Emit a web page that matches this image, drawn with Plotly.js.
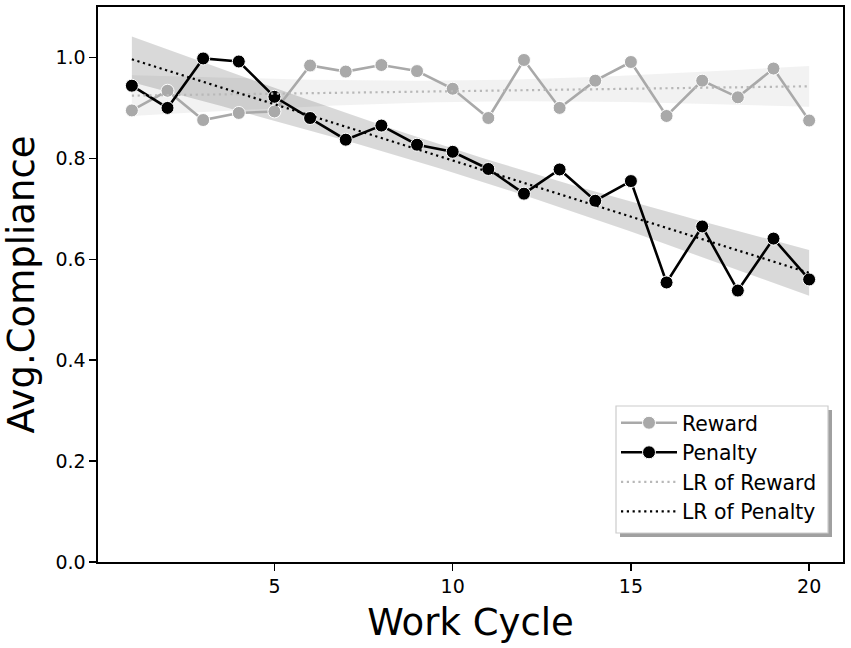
<!DOCTYPE html>
<html>
<head>
<meta charset="utf-8">
<script src="https://cdn.plot.ly/plotly-3.0.1.min.js"></script>
<style>html,body{margin:0;padding:0;background:#fff;}#chart{width:851px;height:648px;}</style>
</head>
<body>
<div id="chart"></div>
<script>
// Data
var workCycle = [1,2,3,4,5,6,7,8,9,10,11,12,13,14,15,16,17,18,19,20];
var reward  = [0.895,0.934,0.876,0.890,0.893,0.984,0.972,0.985,0.973,0.938,0.880,0.995,0.900,0.954,0.991,0.884,0.954,0.921,0.978,0.875];
var penalty = [0.944,0.900,0.998,0.992,0.922,0.880,0.837,0.865,0.827,0.813,0.779,0.730,0.778,0.716,0.755,0.554,0.665,0.538,0.641,0.560];
var seriesNames = ["Reward","Penalty","LR of Reward","LR of Penalty"];
var yTicks = [0,0.2,0.4,0.6,0.8,1.0];
var xTicks = [5,10,15,20];

// Linear regression with 95% confidence band (as drawn by a regression plot)
function regress(x, y) {
  var n = x.length, mx = 0, my = 0;
  for (var i = 0; i < n; i++) { mx += x[i]; my += y[i]; }
  mx /= n; my /= n;
  var sxx = 0, sxy = 0;
  for (i = 0; i < n; i++) { sxx += (x[i]-mx)*(x[i]-mx); sxy += (x[i]-mx)*(y[i]-my); }
  var b = sxy / sxx, a = my - b*mx, sse = 0;
  for (i = 0; i < n; i++) { var r = y[i] - (a + b*x[i]); sse += r*r; }
  var s = Math.sqrt(sse/(n-2)), t = 2.1009; // t(0.975, df=18)
  var xs = [], fit = [], up = [], lo = [];
  var x0 = Math.min.apply(null, x), x1 = Math.max.apply(null, x);
  for (var k = 0; k <= 60; k++) {
    var xv = x0 + (x1-x0)*k/60;
    var f = a + b*xv;
    var h = t*s*Math.sqrt(1/n + (xv-mx)*(xv-mx)/sxx);
    xs.push(xv); fit.push(f); up.push(f+h); lo.push(f-h);
  }
  return {xs: xs, fit: fit, up: up, lo: lo};
}
function band(r, color) {
  return {x: r.xs.concat(r.xs.slice().reverse()), y: r.up.concat(r.lo.slice().reverse()),
    type: 'scatter', mode: 'lines', fill: 'toself', fillcolor: color,
    line: {width: 0}, hoverinfo: 'skip', showlegend: false};
}
var rR = regress(workCycle, reward);
var rP = regress(workCycle, penalty);

var traces = [
  band(rR, 'rgba(169,169,169,0.15)'),
  band(rP, 'rgba(0,0,0,0.15)'),
  {x: workCycle, y: reward, name: seriesNames[0], type: 'scatter', mode: 'lines+markers',
   line: {color: '#a9a9a9', width: 2.6}, marker: {color: '#a9a9a9', size: 13, line: {color: '#ffffff', width: 1}}},
  {x: workCycle, y: penalty, name: seriesNames[1], type: 'scatter', mode: 'lines+markers',
   line: {color: '#000000', width: 2.6}, marker: {color: '#000000', size: 13, line: {color: '#ffffff', width: 1}}},
  {x: rR.xs, y: rR.fit, name: seriesNames[2], type: 'scatter', mode: 'lines',
   line: {color: '#b8b8b8', width: 2.2, dash: '2.2px,3.6px'}},
  {x: rP.xs, y: rP.fit, name: seriesNames[3], type: 'scatter', mode: 'lines',
   line: {color: '#000000', width: 2.2, dash: '2.2px,3.6px'}}
];

// plot area in pixels: x 98..843, y 7..562
function px(x) { return (x - 98) / 745; }
function py(y) { return (562 - y) / 555; }

var font = "DejaVu Sans, sans-serif";
var layout = {
  width: 851, height: 648,
  margin: {l: 98, r: 8, t: 7, b: 86},
  paper_bgcolor: '#ffffff', plot_bgcolor: '#ffffff',
  font: {family: font, color: '#000000', size: 19},
  showlegend: true,
  xaxis: {
    range: [0.05, 20.95], tickvals: xTicks, ticktext: xTicks.map(String),
    ticks: 'outside', ticklen: 7, tickwidth: 1.4, tickcolor: '#000',
    showline: true, linecolor: '#000', linewidth: 1.6, mirror: true,
    showgrid: false, zeroline: false, tickfont: {size: 19, family: font},
    title: {text: 'Work Cycle', font: {size: 37, family: font}, standoff: 12}
  },
  yaxis: {
    range: [0, 1.1], tickvals: yTicks, ticktext: yTicks.map(function(v){return v.toFixed(1);}),
    ticks: 'outside', ticklen: 7, tickwidth: 1.4, tickcolor: '#000',
    showline: true, linecolor: '#000', linewidth: 1.6, mirror: true,
    showgrid: false, zeroline: false, tickfont: {size: 19, family: font},
    title: {text: 'Avg.Compliance', font: {size: 37, family: font}, standoff: 10}
  },
  legend: {
    x: px(616), y: py(403), xanchor: 'left', yanchor: 'top',
    bgcolor: 'rgba(0,0,0,0)', borderwidth: 0,
    font: {size: 20.4, family: font}, traceorder: 'normal', itemwidth: 56
  },
  shapes: [
    {type: 'rect', xref: 'paper', yref: 'paper', layer: 'above',
     x0: px(620), x1: px(832), y0: py(537), y1: py(410),
     fillcolor: '#a0a0a0', line: {width: 0}},
    {type: 'rect', xref: 'paper', yref: 'paper', layer: 'above',
     x0: px(616), x1: px(828), y0: py(533), y1: py(406),
     fillcolor: '#ffffff', line: {color: '#cccccc', width: 1.2}}
  ]
};
Plotly.newPlot('chart', traces, layout, {displayModeBar: false, staticPlot: true});
</script>
</body>
</html>
